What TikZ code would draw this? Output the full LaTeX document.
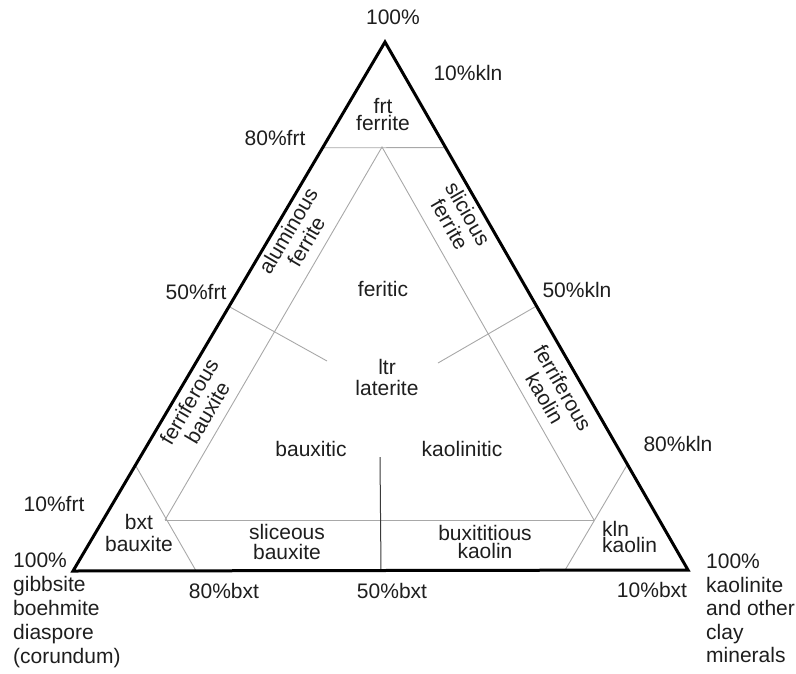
\documentclass[tikz,border=0pt]{standalone}
\usepackage{fontspec}
\setmainfont{Liberation Sans}
\usetikzlibrary{calc}
\definecolor{txt}{HTML}{1E1E1E}
\definecolor{gridgray}{HTML}{A8A8A8}
\definecolor{darkline}{HTML}{3A3A3A}
\begin{document}
\begin{tikzpicture}[x=1pt,y=-1pt,
  lbl/.style={inner sep=0pt, text=txt, font=\fontsize{21}{20}\selectfont, align=center},
  rlbl/.style={lbl, font=\fontsize{21}{21}\selectfont},
  outerline/.style={line width=3pt, draw=black, line join=miter},
  gridline/.style={line width=0.9pt, draw=gridgray},
  vline/.style={line width=1pt, draw=darkline}]
\useasboundingbox (0,0) rectangle (796,673);
% outer triangle
\coordinate (A) at (385,42);
\coordinate (B) at (73,571);
\coordinate (C) at (688,570);
% grid coordinates
\coordinate (t1) at ($(A)!0.2!(B)$);
\coordinate (t2) at ($(A)!0.2!(C)$);
\coordinate (m1) at ($(A)!0.5!(B)$);
\coordinate (m1i) at (327,361);
\coordinate (m2) at ($(A)!0.5!(C)$);
\coordinate (m2i) at (438,363);
\coordinate (b1) at ($(A)!0.8!(B)$);
\coordinate (b2) at ($(B)!0.2!(C)$);
\coordinate (k1) at ($(A)!0.8!(C)$);
\coordinate (k2) at ($(B)!0.8!(C)$);
\coordinate (P) at (382,147);
\coordinate (Q) at (165,520);
\coordinate (R) at (594,520);
\coordinate (v1) at (380,457);
\coordinate (v2) at (381,570);
% grid lines
\draw[gridline] (t1) -- (t2);
\draw[gridline] (m1) -- (m1i);
\draw[gridline] (m2) -- (m2i);
\draw[gridline] (b1) -- (b2);
\draw[gridline] (k1) -- (k2);
\draw[gridline] (Q) -- (P) -- (R);
\draw[gridline] (Q) -- (R);
\draw[vline] (v1) -- (v2);
\draw[outerline] (A) -- (B) -- (C) -- cycle;
% labels
\node[lbl] (top100) at (393,17) {100\%};
\node[lbl] (kln10) at (468,73) {10\%kln};
\node[lbl, font=\fontsize{21}{17}\selectfont] (frt) at (383,114) {frt\\ferrite};
\node[lbl] (frt80) at (275,138) {80\%frt};
\node[rlbl, rotate=59.5] (alum) at (297,236) {aluminous\\ferrite};
\node[lbl] (frt50) at (196,292) {50\%frt};
\node[lbl] (feritic) at (383,289) {feritic};
\node[rlbl, rotate=-60] (slic) at (459,219) {slicious\\ferrite};
\node[lbl] (kln50) at (577,290) {50\%kln};
\node[lbl, font=\fontsize{21}{21}\selectfont] (ltr) at (387,377) {ltr\\laterite};
\node[rlbl, rotate=59.5] (ferrbx) at (198,407) {ferriferous\\bauxite};
\node[rlbl, rotate=-60] (ferrko) at (554,393) {ferriferous\\kaolin};
\node[lbl] (bauxitic) at (311,449) {bauxitic};
\node[lbl] (kaolinitic) at (462,449) {kaolinitic};
\node[lbl] (kln80) at (678,444) {80\%kln};
\node[lbl] (frt10) at (54,504) {10\%frt};
\node[lbl, font=\fontsize{21}{22}\selectfont] (bxt) at (139,533) {bxt\\bauxite};
\node[lbl] (slicbx) at (287,542) {sliceous\\bauxite};
\node[lbl, font=\fontsize{21}{18}\selectfont] (buxk) at (485,542) {buxititious\\kaolin};
\node[lbl, align=left, anchor=west, font=\fontsize{21}{14}\selectfont] (kln) at (602,537) {kln\\kaolin};
\node[lbl, align=left, anchor=north west, font=\fontsize{21}{24}\selectfont] (left) at (13,553) {100\%\\gibbsite\\boehmite\\diaspore\\(corundum)};
\node[lbl, align=left, anchor=north west, font=\fontsize{21}{23.5}\selectfont] (right) at (706,554) {100\%\\kaolinite\\and other\\clay\\minerals};
\node[lbl] (bxt80) at (224,591) {80\%bxt};
\node[lbl] (bxt50) at (392,591) {50\%bxt};
\node[lbl] (bxt10) at (652,590) {10\%bxt};
\end{tikzpicture}
\end{document}
